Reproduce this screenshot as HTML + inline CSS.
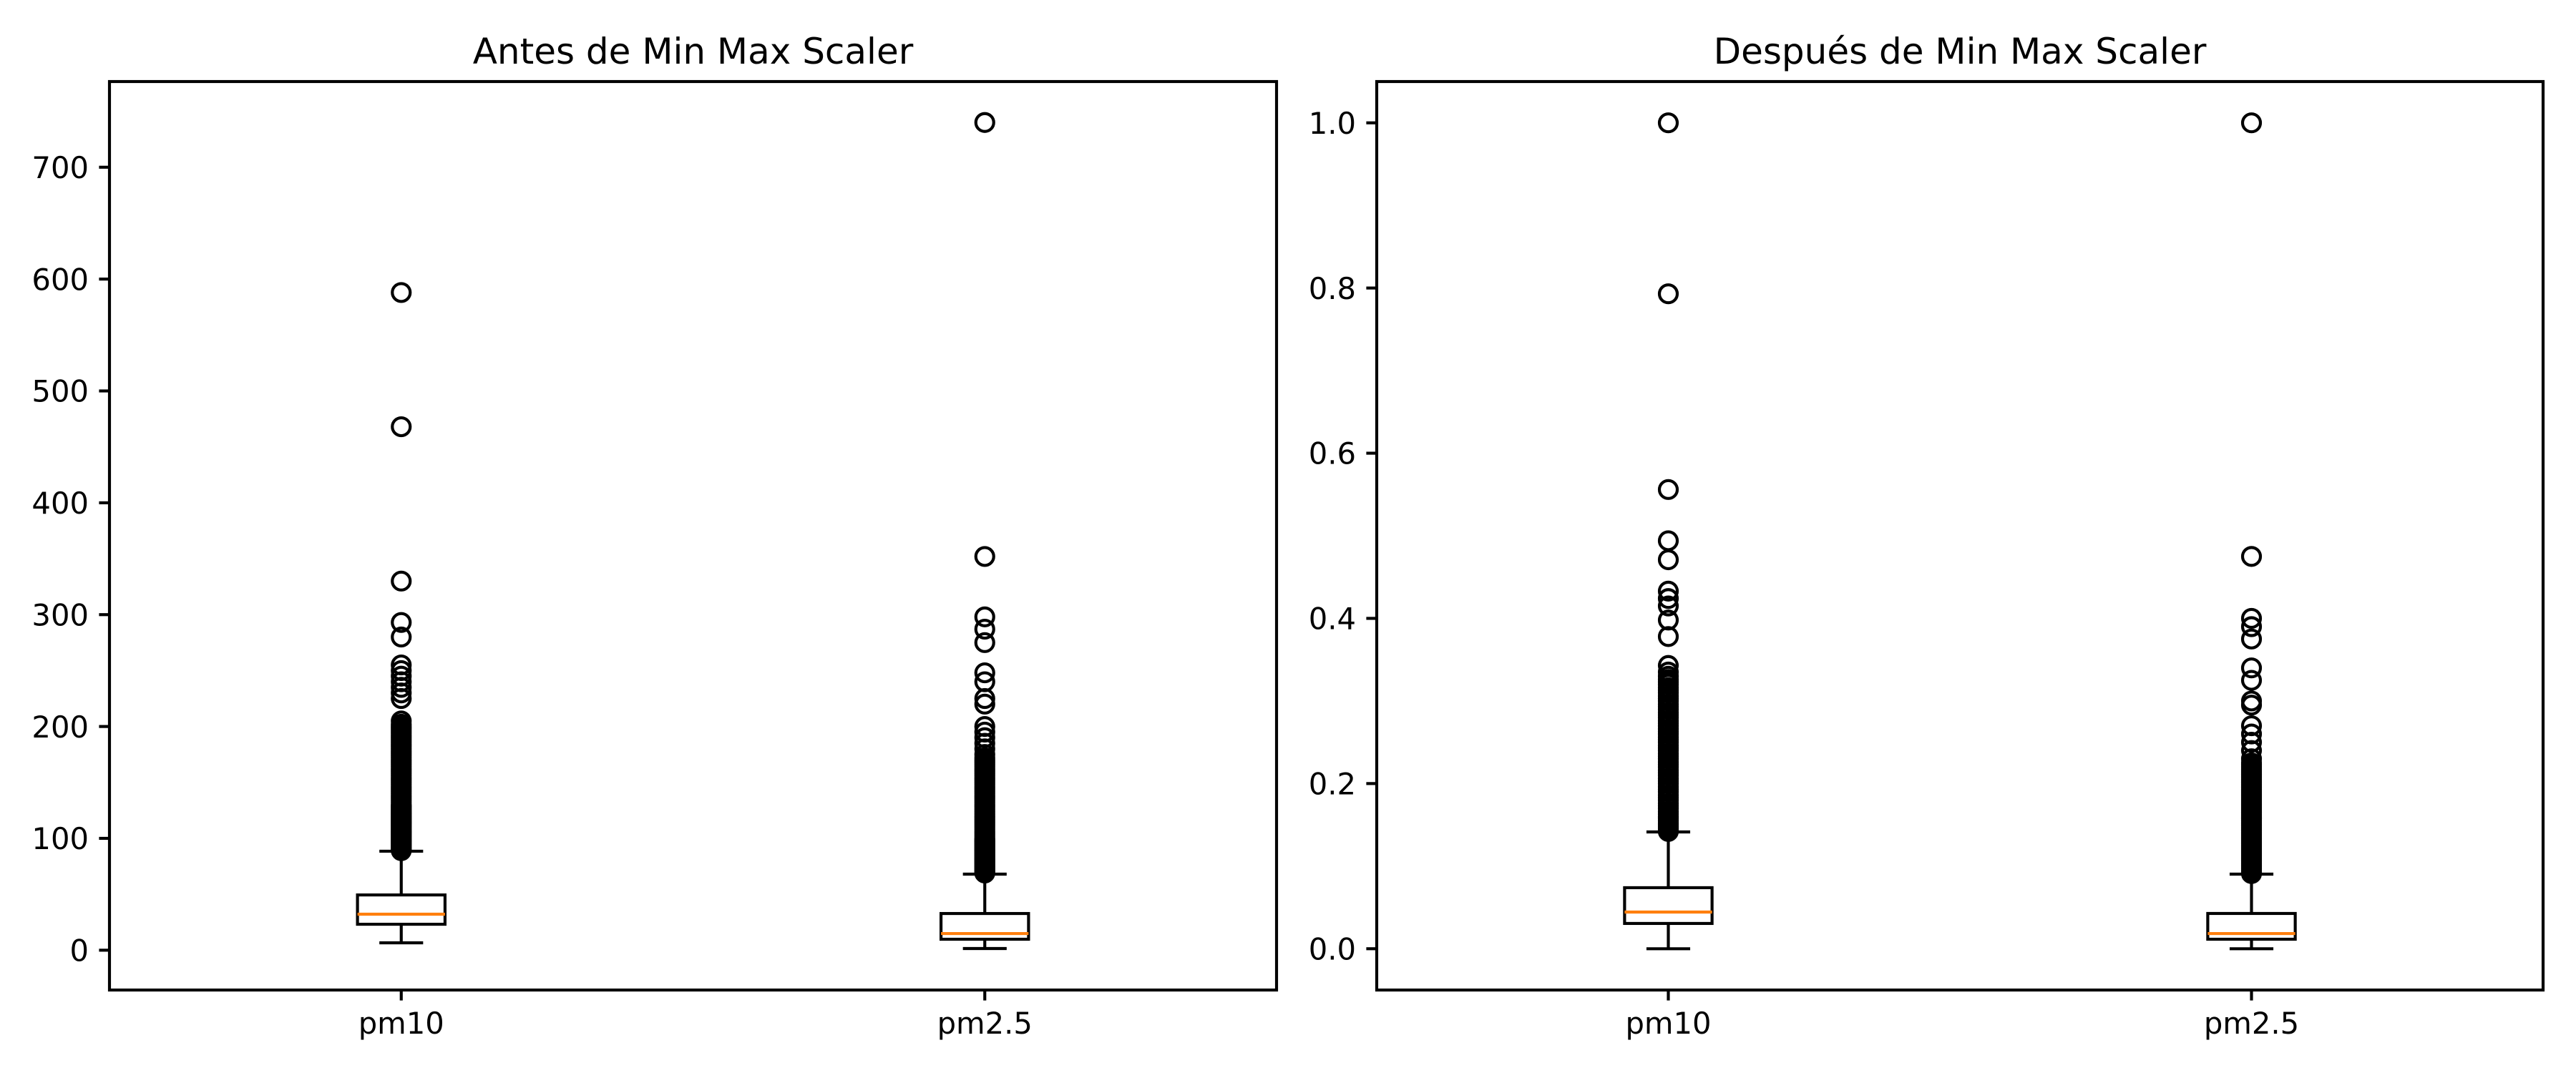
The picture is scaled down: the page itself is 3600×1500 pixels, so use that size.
<!DOCTYPE html>
<html><head><meta charset="utf-8"><style>
html,body{margin:0;padding:0;background:#fff;}
svg{display:block;}
text{font-family:"DejaVu Sans","Liberation Sans",sans-serif;fill:#000;}
</style></head><body>
<svg id="chart" width="3600" height="1500" viewBox="0 0 3600 1500" xmlns="http://www.w3.org/2000/svg"></svg>
<script>
// ---- data ----
const categories = ["pm10", "pm2.5"];
const titles = ["Antes de Min Max Scaler", "Después de Min Max Scaler"];
const leftTicks = [0, 100, 200, 300, 400, 500, 600, 700];
const leftTickLabels = ["0", "100", "200", "300", "400", "500", "600", "700"];
const rightTicks = [0, 0.2, 0.4, 0.6, 0.8, 1.0];
const rightTickLabels = ["0.0", "0.2", "0.4", "0.6", "0.8", "1.0"];
// [lowCap, Q1, median, Q3, highCap]
const leftPm10Stats = [6.6, 23.2, 32.2, 49.4, 88.5];
const leftPm25Stats = [1.5, 9.8, 14.9, 32.8, 68];
const rightPm10Stats = [0.0, 0.0306, 0.0444, 0.0739, 0.1414];
const rightPm25Stats = [0.0, 0.0115, 0.0184, 0.0427, 0.0903];
const leftPm10Outliers = [89,90,91,92,93,94,95,96,97,98,99,100,101,102,103,104,105,106,107,108,109,110,111,112,113,114,115,116,117,118,119,120,121,122,123,124,125,126,127,128,129,130,132,134,136,138,140,142,144,146,148,150,152,154,156,158,160,162,164,166,168,170,172,174,176,178,180,182,184,186,188,190,192,194,196,198,200,202,205,225,230,235,240,245,250,255,280,293,330,468,588];
const leftPm25Outliers = [69,70,71,72,73,74,75,76,77,78,79,80,81,82,83,84,85,86,87,88,89,90,91,92,93,94,95,96,97,98,99,100,102,104,106,108,110,112,114,116,118,120,122,124,126,128,130,132,134,136,138,140,142,144,146,148,150,152,154,156,158,160,162,164,166,168,170,172,175,180,185,190,195,200,220,225,240,248,275,287,298,352,740];
const rightPm10Outliers = [0.142,0.144,0.146,0.148,0.15,0.152,0.155,0.158,0.16,0.163,0.166,0.17,0.173,0.176,0.18,0.183,0.186,0.19,0.193,0.196,0.2,0.203,0.206,0.21,0.213,0.216,0.22,0.223,0.226,0.23,0.233,0.236,0.24,0.243,0.246,0.25,0.253,0.256,0.26,0.263,0.266,0.27,0.273,0.276,0.28,0.283,0.286,0.29,0.293,0.296,0.3,0.303,0.306,0.31,0.313,0.316,0.32,0.323,0.326,0.33,0.335,0.343,0.378,0.398,0.415,0.424,0.433,0.471,0.494,0.556,0.793,1.0];
const rightPm25Outliers = [0.091,0.093,0.095,0.097,0.099,0.101,0.103,0.105,0.107,0.109,0.111,0.113,0.115,0.117,0.119,0.121,0.123,0.125,0.127,0.129,0.131,0.133,0.135,0.137,0.139,0.141,0.143,0.145,0.147,0.149,0.151,0.153,0.155,0.157,0.159,0.161,0.163,0.165,0.167,0.169,0.171,0.173,0.175,0.177,0.179,0.181,0.183,0.185,0.187,0.189,0.191,0.193,0.195,0.197,0.199,0.201,0.203,0.205,0.207,0.209,0.211,0.213,0.215,0.217,0.219,0.221,0.223,0.225,0.23,0.24,0.25,0.26,0.27,0.295,0.30,0.325,0.34,0.375,0.39,0.40,0.475,1.0];

const NS = "http://www.w3.org/2000/svg";
const svg = document.getElementById("chart");
function mk(tag, attrs, parent) {
  const e = document.createElementNS(NS, tag);
  for (const k in attrs) e.setAttribute(k, attrs[k]);
  (parent || svg).appendChild(e);
  return e;
}

const panels = [
  {x0:153, x1:1784, yMin:-35.6, yMax:776.6, ticks:leftTicks, labels:leftTickLabels, title:titles[0],
   stats:[leftPm10Stats, leftPm25Stats], outs:[leftPm10Outliers, leftPm25Outliers], name:"left"},
  {x0:1924, x1:3554, yMin:-0.05, yMax:1.05, ticks:rightTicks, labels:rightTickLabels, title:titles[1],
   stats:[rightPm10Stats, rightPm25Stats], outs:[rightPm10Outliers, rightPm25Outliers], name:"right"}
];
const axTop = 114, axBottom = 1384;
const lw = 4.17;

panels.forEach(p => {
  const g = mk("g", {});
  
  
  const xs = v => p.x0 + (v - 0.5) / 2 * (p.x1 - p.x0);
  const ys = v => axBottom - (v - p.yMin) / (p.yMax - p.yMin) * (axBottom - axTop);
  const bw = 0.15 * (p.x1 - p.x0) / 2;

  categories.forEach((c, i) => {
    const cx = xs(i + 1);
    const s = p.stats[i];
    const bg = mk("g", {}, g);
    
    
    const st = {stroke:"#000", "stroke-width":lw, fill:"none"};
    mk("line", Object.assign({x1:cx, x2:cx, y1:ys(s[0]), y2:ys(s[1])}, st), bg);
    mk("line", Object.assign({x1:cx, x2:cx, y1:ys(s[3]), y2:ys(s[4])}, st), bg);
    mk("line", Object.assign({x1:cx-bw/4, x2:cx+bw/4, y1:ys(s[0]), y2:ys(s[0])}, st), bg);
    mk("line", Object.assign({x1:cx-bw/4, x2:cx+bw/4, y1:ys(s[4]), y2:ys(s[4])}, st), bg);
    mk("rect", Object.assign({x:cx-bw/2, y:ys(s[3]), width:bw, height:ys(s[1])-ys(s[3])}, st), bg);
    const med = mk("line", {x1:cx-bw/2, x2:cx+bw/2, y1:ys(s[2]), y2:ys(s[2]), stroke:"#ff7f0e", "stroke-width":lw}, bg);
    
    
    p.outs[i].forEach(v => {
      const o = mk("circle", {cx:cx, cy:ys(v), r:12.5, fill:"none", stroke:"#000", "stroke-width":lw}, bg);
      
      
    });
    mk("line", {x1:cx, x2:cx, y1:axBottom, y2:axBottom+14.6, stroke:"#000", "stroke-width":lw}, g);
    const t = mk("text", {x:cx, y:1445, "font-size":41.7, "text-anchor":"middle"}, g);
    t.textContent = c;
    
    
  });

  p.ticks.forEach((v, k) => {
    const y = ys(v);
    mk("line", {x1:p.x0-14.6, x2:p.x0, y1:y, y2:y, stroke:"#000", "stroke-width":lw}, g);
    const t = mk("text", {x:p.x0-29, y:y+15.2, "font-size":41.7, "text-anchor":"end"}, g);
    t.textContent = p.labels[k];
    
    
  });

  const fr = mk("rect", {x:p.x0, y:axTop, width:p.x1-p.x0, height:axBottom-axTop, fill:"none", stroke:"#000", "stroke-width":lw}, g);
  
  
  const tt = mk("text", {x:(p.x0+p.x1)/2, y:89, "font-size":50, "text-anchor":"middle"}, g);
  tt.textContent = p.title;
  
  
});
</script>
</body></html>
